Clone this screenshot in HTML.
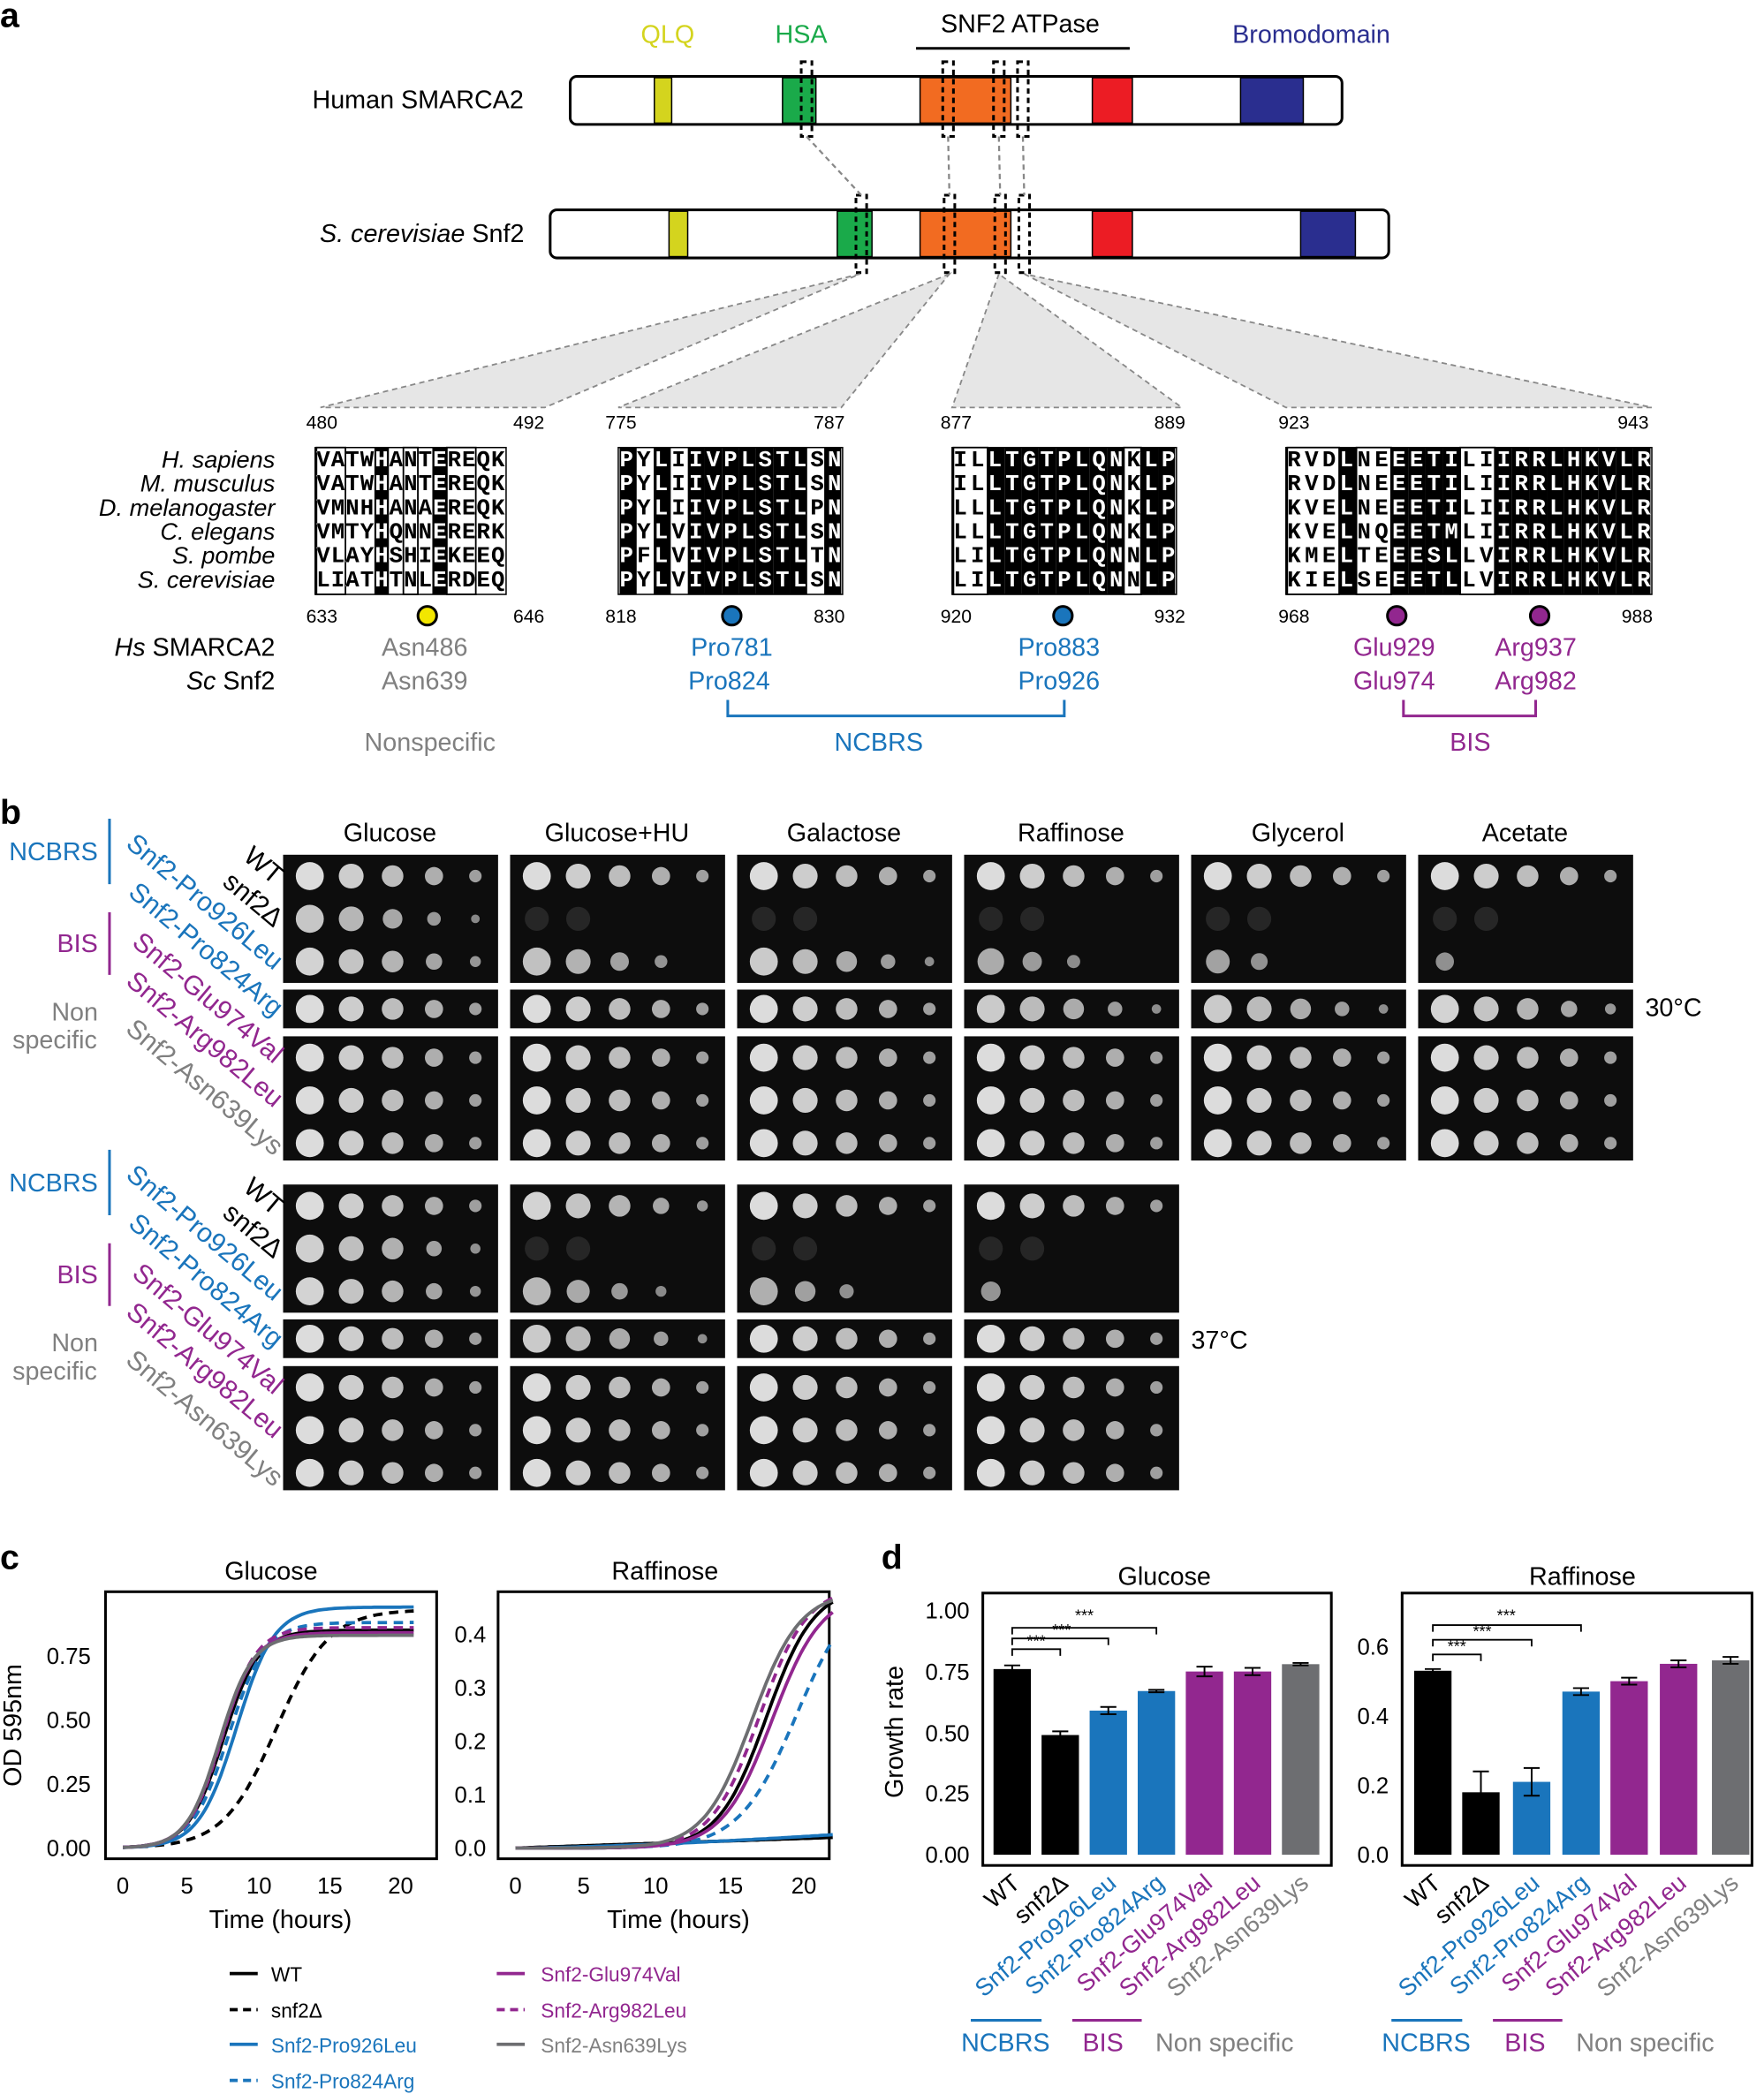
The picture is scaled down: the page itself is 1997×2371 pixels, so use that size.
<!DOCTYPE html>
<html><head><meta charset="utf-8"><style>
html,body{margin:0;padding:0;background:#fff}
svg{display:block}
text{font-family:"Liberation Sans",sans-serif}
.sq{font-family:"Liberation Mono",monospace;font-weight:bold;font-size:17px;fill:#fff;mix-blend-mode:difference}
.sp{font-style:italic;font-size:18px;text-anchor:end}
.n{font-size:14px;text-anchor:middle}
.t{font-size:19px;text-anchor:middle}
.tk{font-size:17px}
</style></head><body>
<svg id="s" xmlns="http://www.w3.org/2000/svg" width="1997" height="2371" viewBox="0 0 1321 1568">
<rect width="1321" height="1568" fill="#fff"/>
<g id="bg"></g>
<text x="0" y="20" font-size="26" font-weight="bold">a</text>
<text x="500" y="32" class="t" fill="#d4d41e">QLQ</text>
<text x="600" y="32" class="t" fill="#1aaa4a">HSA</text>
<text x="764" y="24" class="t">SNF2 ATPase</text>
<line x1="686" y1="36" x2="846" y2="36" stroke="#000" stroke-width="2"/>
<text x="982" y="32" class="t" fill="#2a2e8f">Bromodomain</text>
<text x="313" y="81" class="t">Human SMARCA2</text>
<rect x="427" y="57" width="578" height="36" rx="5" fill="#fff" stroke="#000" stroke-width="2"/>
<rect x="490" y="58" width="13" height="34" fill="#d4d41e" stroke="#000"/>
<rect x="586" y="58" width="25" height="34" fill="#1aaa4a" stroke="#000"/>
<rect x="689" y="58" width="68" height="34" fill="#f26b21" stroke="#000"/>
<rect x="818" y="58" width="30" height="34" fill="#ec1c24" stroke="#000"/>
<rect x="929" y="58" width="47" height="34" fill="#2a2e8f" stroke="#000"/>
<text x="316" y="181" class="t"><tspan font-style="italic">S. cerevisiae</tspan> Snf2</text>
<rect x="412" y="157" width="628" height="36" rx="5" fill="#fff" stroke="#000" stroke-width="2"/>
<rect x="501" y="158" width="14" height="34" fill="#d4d41e" stroke="#000"/>
<rect x="627" y="158" width="26" height="34" fill="#1aaa4a" stroke="#000"/>
<rect x="689" y="158" width="68" height="34" fill="#f26b21" stroke="#000"/>
<rect x="818" y="158" width="30" height="34" fill="#ec1c24" stroke="#000"/>
<rect x="974" y="158" width="41" height="34" fill="#2a2e8f" stroke="#000"/>
<g fill="none" stroke="#000" stroke-width="2" stroke-dasharray="4,3">
<rect x="600" y="46" width="8" height="56"/><rect x="706" y="46" width="8" height="56"/><rect x="744" y="46" width="8" height="56"/><rect x="762" y="46" width="8" height="56"/>
<rect x="641" y="146" width="8" height="58"/><rect x="707" y="146" width="8" height="58"/><rect x="745" y="146" width="8" height="58"/><rect x="763" y="146" width="8" height="58"/>
</g>
<g stroke="#888" stroke-width="1.5" stroke-dasharray="4,3">
<line x1="604" y1="102" x2="645" y2="146"/><line x1="710" y1="102" x2="711" y2="146"/><line x1="748" y1="102" x2="749" y2="146"/><line x1="766" y1="102" x2="767" y2="146"/>
</g>
<g fill="#e6e6e6" stroke="#888" stroke-width="1.2" stroke-dasharray="4,3">
<polygon points="644,205 240,305 408,305"/>
<polygon points="711,205 463,305 630,305"/>
<polygon points="748,205 713,305 885,305"/>
<polygon points="767,205 963,305 1237,305"/>
</g>
<g class="n">
<text x="241" y="321">480</text><text x="396" y="321">492</text><text x="465" y="321">775</text><text x="621" y="321">787</text>
<text x="716" y="321">877</text><text x="876" y="321">889</text><text x="969" y="321">923</text><text x="1223" y="321">943</text>
<text x="241" y="466">633</text><text x="396" y="466">646</text><text x="465" y="466">818</text><text x="621" y="466">830</text>
<text x="716" y="466">920</text><text x="876" y="466">932</text><text x="969" y="466">968</text><text x="1226" y="466">988</text>
</g>
<text x="206" y="350" class="sp">H. sapiens</text>
<text x="206" y="368" class="sp">M. musculus</text>
<text x="206" y="386" class="sp">D. melanogaster</text>
<text x="206" y="404" class="sp">C. elegans</text>
<text x="206" y="422" class="sp">S. pombe</text>
<text x="206" y="440" class="sp">S. cerevisiae</text>
<g id="aln"></g>
<g id="seq">
<text class="sq" x="237" y="349" textLength="141">VATWHANTEREQK</text>
<text class="sq" x="237" y="367" textLength="141">VATWHANTEREQK</text>
<text class="sq" x="237" y="385" textLength="141">VMNHHANAEREQK</text>
<text class="sq" x="237" y="403" textLength="141">VMTYHQNNERERK</text>
<text class="sq" x="237" y="421" textLength="141">VLAYHSHIEKEEQ</text>
<text class="sq" x="237" y="439" textLength="141">LIATHTNLERDEQ</text>
<text class="sq" x="464" y="349" textLength="166">PYLIIVPLSTLSN</text>
<text class="sq" x="464" y="367" textLength="166">PYLIIVPLSTLSN</text>
<text class="sq" x="464" y="385" textLength="166">PYLIIVPLSTLPN</text>
<text class="sq" x="464" y="403" textLength="166">PYLVIVPLSTLSN</text>
<text class="sq" x="464" y="421" textLength="166">PFLVIVPLSTLTN</text>
<text class="sq" x="464" y="439" textLength="166">PYLVIVPLSTLSN</text>
<text class="sq" x="714" y="349" textLength="166">ILLTGTPLQNKLP</text>
<text class="sq" x="714" y="367" textLength="166">ILLTGTPLQNKLP</text>
<text class="sq" x="714" y="385" textLength="166">LLLTGTPLQNKLP</text>
<text class="sq" x="714" y="403" textLength="166">LLLTGTPLQNKLP</text>
<text class="sq" x="714" y="421" textLength="166">LILTGTPLQNNLP</text>
<text class="sq" x="714" y="439" textLength="166">LILTGTPLQNNLP</text>
<text class="sq" x="964" y="349" textLength="272">RVDLNEEETILIIRRLHKVLR</text>
<text class="sq" x="964" y="367" textLength="272">RVDLNEEETILIIRRLHKVLR</text>
<text class="sq" x="964" y="385" textLength="272">KVELNEEETILIIRRLHKVLR</text>
<text class="sq" x="964" y="403" textLength="272">KVELNQEETMLIIRRLHKVLR</text>
<text class="sq" x="964" y="421" textLength="272">KMELTEEESLLVIRRLHKVLR</text>
<text class="sq" x="964" y="439" textLength="272">KIELSEEETLLVIRRLHKVLR</text>
</g>
<g stroke="#000" stroke-width="2">
<circle cx="320" cy="461" r="7" fill="#f2e600"/><circle cx="548" cy="461" r="7" fill="#1a75bc"/><circle cx="796" cy="461" r="7" fill="#1a75bc"/>
<circle cx="1046" cy="461" r="7" fill="#92278f"/><circle cx="1153" cy="461" r="7" fill="#92278f"/>
</g>
<text x="206" y="491" class="t" style="text-anchor:end"><tspan font-style="italic">Hs</tspan> SMARCA2</text>
<text x="206" y="516" class="t" style="text-anchor:end"><tspan font-style="italic">Sc</tspan> Snf2</text>
<g class="t" fill="#808080"><text x="318" y="491">Asn486</text><text x="318" y="516">Asn639</text><text x="322" y="562">Nonspecific</text></g>
<g class="t" fill="#1a75bc"><text x="548" y="491">Pro781</text><text x="546" y="516">Pro824</text><text x="793" y="491">Pro883</text><text x="793" y="516">Pro926</text><text x="658" y="562">NCBRS</text></g>
<g class="t" fill="#92278f"><text x="1044" y="491">Glu929</text><text x="1044" y="516">Glu974</text><text x="1150" y="491">Arg937</text><text x="1150" y="516">Arg982</text><text x="1101" y="562">BIS</text></g>
<polyline points="545,524 545,536 797,536 797,524" fill="none" stroke="#1a75bc" stroke-width="2"/>
<polyline points="1051,524 1051,536 1150,536 1150,524" fill="none" stroke="#92278f" stroke-width="2"/>

<text x="0" y="617" font-size="26" font-weight="bold">b</text>
<g class="t"><text x="292" y="630">Glucose</text><text x="462" y="630">Glucose+HU</text><text x="632" y="630">Galactose</text><text x="802" y="630">Raffinose</text><text x="972" y="630">Glycerol</text><text x="1142" y="630">Acetate</text></g>
<text x="1232" y="761" font-size="19">30°C</text>
<text x="892" y="1010" font-size="19">37°C</text>
<g id="plates"></g>
<g id="lab1">
<text x="40" y="644" class="t" fill="#1a75bc">NCBRS</text><line x1="82" y1="613" x2="82" y2="662" stroke="#1a75bc" stroke-width="2"/>
<text x="58" y="713" class="t" fill="#92278f">BIS</text><line x1="82" y1="683" x2="82" y2="730" stroke="#92278f" stroke-width="2"/>
<text x="56" y="764" class="t" fill="#808080">Non</text><text x="41" y="785" class="t" fill="#808080">specific</text>
<g font-size="20" text-anchor="end">
<text transform="translate(205,663) rotate(40)">WT</text>
<text transform="translate(205,695) rotate(40)">snf2Δ</text>
<text transform="translate(205,727) rotate(40)" fill="#1a75bc">Snf2-Pro926Leu</text>
<text transform="translate(205,762) rotate(40)" fill="#1a75bc">Snf2-Pro824Arg</text>
<text transform="translate(205,797) rotate(40)" fill="#92278f">Snf2-Glu974Val</text>
<text transform="translate(205,830) rotate(40)" fill="#92278f">Snf2-Arg982Leu</text>
<text transform="translate(205,866) rotate(40)" fill="#808080">Snf2-Asn639Lys</text>
</g></g>
<g transform="translate(0,248)">
<text x="40" y="644" class="t" fill="#1a75bc">NCBRS</text><line x1="82" y1="613" x2="82" y2="662" stroke="#1a75bc" stroke-width="2"/>
<text x="58" y="713" class="t" fill="#92278f">BIS</text><line x1="82" y1="683" x2="82" y2="730" stroke="#92278f" stroke-width="2"/>
<text x="56" y="764" class="t" fill="#808080">Non</text><text x="41" y="785" class="t" fill="#808080">specific</text>
<g font-size="20" text-anchor="end">
<text transform="translate(205,663) rotate(40)">WT</text>
<text transform="translate(205,695) rotate(40)">snf2Δ</text>
<text transform="translate(205,727) rotate(40)" fill="#1a75bc">Snf2-Pro926Leu</text>
<text transform="translate(205,762) rotate(40)" fill="#1a75bc">Snf2-Pro824Arg</text>
<text transform="translate(205,797) rotate(40)" fill="#92278f">Snf2-Glu974Val</text>
<text transform="translate(205,830) rotate(40)" fill="#92278f">Snf2-Arg982Leu</text>
<text transform="translate(205,866) rotate(40)" fill="#808080">Snf2-Asn639Lys</text>
</g></g>

<text x="0" y="1175" font-size="26" font-weight="bold">c</text>
<text x="203" y="1183" class="t">Glucose</text>
<text x="498" y="1183" class="t">Raffinose</text>
<rect x="79" y="1192" width="248" height="200" fill="none" stroke="#000" stroke-width="2"/>
<rect x="373" y="1192" width="248" height="200" fill="none" stroke="#000" stroke-width="2"/>
<g class="tk" text-anchor="end">
<text x="68" y="1390">0.00</text><text x="68" y="1342">0.25</text><text x="68" y="1294">0.50</text><text x="68" y="1246">0.75</text>
<text x="364" y="1390">0.0</text><text x="364" y="1350">0.1</text><text x="364" y="1310">0.2</text><text x="364" y="1270">0.3</text><text x="364" y="1230">0.4</text>
</g>
<g class="tk" text-anchor="middle">
<text x="92" y="1418">0</text><text x="140" y="1418">5</text><text x="194" y="1418">10</text><text x="247" y="1418">15</text><text x="300" y="1418">20</text>
<text x="386" y="1418">0</text><text x="437" y="1418">5</text><text x="491" y="1418">10</text><text x="547" y="1418">15</text><text x="602" y="1418">20</text>
</g>
<text x="210" y="1444" class="t">Time (hours)</text>
<text x="508" y="1444" class="t">Time (hours)</text>
<text transform="translate(16,1292) rotate(-90)" class="t">OD 595nm</text>
<g id="curves"></g>
<g font-size="15">
<line x1="172" y1="1478" x2="193" y2="1478" stroke="#000" stroke-width="2.5"/><text x="203" y="1484">WT</text>
<line x1="172" y1="1505" x2="193" y2="1505" stroke="#000" stroke-width="2.5" stroke-dasharray="6,4"/><text x="203" y="1511">snf2Δ</text>
<line x1="172" y1="1531" x2="193" y2="1531" stroke="#1a75bc" stroke-width="2.5"/><text x="203" y="1537" fill="#1a75bc">Snf2-Pro926Leu</text>
<line x1="172" y1="1558" x2="193" y2="1558" stroke="#1a75bc" stroke-width="2.5" stroke-dasharray="6,4"/><text x="203" y="1564" fill="#1a75bc">Snf2-Pro824Arg</text>
<line x1="372" y1="1478" x2="393" y2="1478" stroke="#92278f" stroke-width="2.5"/><text x="405" y="1484" fill="#92278f">Snf2-Glu974Val</text>
<line x1="372" y1="1505" x2="393" y2="1505" stroke="#92278f" stroke-width="2.5" stroke-dasharray="6,4"/><text x="405" y="1511" fill="#92278f">Snf2-Arg982Leu</text>
<line x1="372" y1="1531" x2="393" y2="1531" stroke="#6d6e71" stroke-width="2.5"/><text x="405" y="1537" fill="#808080">Snf2-Asn639Lys</text>
</g>

<text x="660" y="1175" font-size="26" font-weight="bold">d</text>
<text x="872" y="1187" class="t">Glucose</text>
<text x="1185" y="1187" class="t">Raffinose</text>
<text transform="translate(676,1297) rotate(-90)" class="t">Growth rate</text>
<g id="bars"></g>
<rect x="736" y="1193" width="261" height="204" fill="none" stroke="#000" stroke-width="2"/>
<rect x="1050" y="1193" width="262" height="204" fill="none" stroke="#000" stroke-width="2"/>
<g class="tk" text-anchor="end">
<text x="726" y="1395">0.00</text><text x="726" y="1349">0.25</text><text x="726" y="1304">0.50</text><text x="726" y="1258">0.75</text><text x="726" y="1212">1.00</text>
<text x="1040" y="1395">0.0</text><text x="1040" y="1343">0.2</text><text x="1040" y="1291">0.4</text><text x="1040" y="1239">0.6</text>
</g>
<g font-size="12" text-anchor="middle">
<text x="776" y="1233">***</text><text x="795" y="1225">***</text><text x="812" y="1214">***</text>
<text x="1091" y="1237">***</text><text x="1110" y="1226">***</text><text x="1128" y="1214">***</text>
</g>
<g fill="none" stroke="#000" stroke-width="1.2">
<polyline points="758,1240 758,1235 794,1235 794,1240"/><polyline points="758,1232 758,1227 830,1227 830,1232"/><polyline points="758,1224 758,1219 866,1219 866,1224"/>
<polyline points="1073,1244 1073,1239 1109,1239 1109,1244"/><polyline points="1073,1233 1073,1228 1147,1228 1147,1233"/><polyline points="1073,1222 1073,1217 1184,1217 1184,1222"/>
</g>
<g font-size="18" text-anchor="end">
<text transform="translate(765,1412) rotate(-40)">WT</text>
<text transform="translate(801,1412) rotate(-40)">snf2Δ</text>
<text transform="translate(837,1412) rotate(-40)" fill="#1a75bc">Snf2-Pro926Leu</text>
<text transform="translate(873,1412) rotate(-40)" fill="#1a75bc">Snf2-Pro824Arg</text>
<text transform="translate(909,1412) rotate(-40)" fill="#92278f">Snf2-Glu974Val</text>
<text transform="translate(945,1412) rotate(-40)" fill="#92278f">Snf2-Arg982Leu</text>
<text transform="translate(981,1412) rotate(-40)" fill="#808080">Snf2-Asn639Lys</text>
<text transform="translate(1080,1412) rotate(-40)">WT</text>
<text transform="translate(1116,1412) rotate(-40)">snf2Δ</text>
<text transform="translate(1154,1412) rotate(-40)" fill="#1a75bc">Snf2-Pro926Leu</text>
<text transform="translate(1191,1412) rotate(-40)" fill="#1a75bc">Snf2-Pro824Arg</text>
<text transform="translate(1227,1412) rotate(-40)" fill="#92278f">Snf2-Glu974Val</text>
<text transform="translate(1264,1412) rotate(-40)" fill="#92278f">Snf2-Arg982Leu</text>
<text transform="translate(1303,1412) rotate(-40)" fill="#808080">Snf2-Asn639Lys</text>
</g>
<g class="t">
<text x="753" y="1536" fill="#1a75bc">NCBRS</text><text x="826" y="1536" fill="#92278f">BIS</text><text x="917" y="1536" fill="#808080">Non specific</text>
<text x="1068" y="1536" fill="#1a75bc">NCBRS</text><text x="1142" y="1536" fill="#92278f">BIS</text><text x="1232" y="1536" fill="#808080">Non specific</text>
</g>
<g stroke-width="2">
<line x1="727" y1="1513" x2="780" y2="1513" stroke="#1a75bc"/><line x1="803" y1="1513" x2="855" y2="1513" stroke="#92278f"/>
<line x1="1042" y1="1513" x2="1095" y2="1513" stroke="#1a75bc"/><line x1="1118" y1="1513" x2="1170" y2="1513" stroke="#92278f"/>
</g>
</svg>
<script>
var NS="http://www.w3.org/2000/svg";
function el(p,t,a){var e=document.createElementNS(NS,t);for(var k in a)e.setAttribute(k,a[k]);document.getElementById(p).appendChild(e);return e;}
var blocks=[[237,141,13,[5,9],[[1,2],[7,7],[10,11]]],[464,166,13,[1,3,5,6,7,8,9,10,11,13],[]],[714,166,13,[3,4,5,6,7,8,9,10,12,13],[[1,2],[11,11]]],[964,272,21,[4,7,8,9,10,13,14,15,16,17,18,19,20,21],[[1,3],[5,6],[11,12]]]];
blocks.forEach(function(b){var w=b[1]/b[2];
 el("aln","rect",{x:b[0]-1,y:335,width:b[1]+2,height:110,fill:"none",stroke:"#000","stroke-width":1});
 b[3].forEach(function(c){el("aln","rect",{x:b[0]+(c-1)*w,y:335,width:w,height:110,fill:"#000"});});
 b[4].forEach(function(r){el("aln","rect",{x:b[0]+(r[0]-1)*w,y:335,width:(r[1]-r[0]+1)*w,height:110,fill:"none",stroke:"#000","stroke-width":1.2});});
});
var px=[212,382,552,722,892,1062];
var S30=[[1,.75,.9,1,1,1,1],[1,.04,.7,1,1,1,1],[1,.04,.8,1,1,1,1],[1,.03,.45,.8,1,1,1],[1,.03,.35,.8,1,1,1],[1,.03,.15,.9,1,1,1]];
var S37=[[1,.85,.9,1,1,1,1],[.9,.04,.6,.8,1,1,1],[1,.03,.5,1,1,1,1],[1,.03,.2,1,1,1,1]];
function plateSet(y0,S,n){
 var groups=[[y0,96,[0,1,2]],[y0+101,29,[3]],[y0+136,93,[4,5,6]]];
 for(var p=0;p<n;p++){
  groups.forEach(function(g){
   el("plates","rect",{x:px[p],y:g[0],width:161,height:g[1],fill:"#0d0d0d"});
   g[2].forEach(function(r,i){
    var cy=g[2].length==1?g[0]+g[1]/2:g[0]+16+i*32;
    var s=S[p][r];
    for(var d=0;d<5;d++){
     var cx=px[p]+20+d*31;
     var v=s-d*0.17;
     if(v<=0.05){ if(s<0.1&&d<2){el("plates","circle",{cx:cx,cy:cy,r:9,fill:"#262626"});} continue;}
     var rr=Math.max(2.5,(10.5-d*1.2)*Math.min(1,0.5+v));
     var c=Math.round(130+90*Math.min(1,v));
     el("plates","circle",{cx:cx,cy:cy,r:rr,fill:"rgb("+c+","+c+","+c+")"});
    }
   });
  });
 }
}
plateSet(640,S30,6);plateSet(887,S37,4);
function curve(x0,xs,y0,ys,f,col,dash){
 var d="";for(var t=0;t<=22;t+=0.2){var x=x0+t*xs,y=y0-f(t)*ys;d+=(t==0?"M":"L")+x.toFixed(1)+","+y.toFixed(1);}
 var a={d:d,fill:"none",stroke:col,"stroke-width":2.5};if(dash)a["stroke-dasharray"]="7,5";el("curves","path",a);
}
function L(m,mid,k,b){return function(t){return b+(m-b)/(1+Math.exp(-k*(t-mid)));};}
var gx=92,gs=9.9,gy=1384,gys=192;
curve(gx,gs,gy,gys,L(0.85,7.6,0.75,0.0),"#000");
curve(gx,gs,gy,gys,L(0.93,11.6,0.5,0.0),"#000",1);
curve(gx,gs,gy,gys,L(0.94,8.6,0.7,0.0),"#1a75bc");
curve(gx,gs,gy,gys,L(0.88,8.0,0.72,0.0),"#1a75bc",1);
curve(gx,gs,gy,gys,L(0.84,7.4,0.78,0.0),"#92278f");
curve(gx,gs,gy,gys,L(0.86,7.5,0.78,0.0),"#92278f",1);
curve(gx,gs,gy,gys,L(0.83,7.3,0.8,0.0),"#6d6e71");
var rx=386,rs=10.8,ry=1384,rys=400;
curve(rx,rs,ry,rys,function(t){return 0.02*t/22;},"#000");
curve(rx,rs,ry,rys,function(t){return 0.02*t/22;},"#000",1);
curve(rx,rs,ry,rys,function(t){return 0.025*Math.pow(t/22,1.5);},"#1a75bc");
curve(rx,rs,ry,rys,L(0.5,19.5,0.5,0),"#1a75bc",1);
curve(rx,rs,ry,rys,L(0.49,17.4,0.6,0),"#000");
curve(rx,rs,ry,rys,L(0.48,17.8,0.58,0),"#92278f");
curve(rx,rs,ry,rys,L(0.49,16.9,0.6,0),"#92278f",1);
curve(rx,rs,ry,rys,L(0.48,16.4,0.6,0),"#6d6e71");
var cols=["#000","#000","#1a75bc","#1a75bc","#92278f","#92278f","#6d6e71"];
function bars(cx,v,e,y0,sc){cx.forEach(function(x,i){var h=v[i]*sc;
 el("bars","rect",{x:x-14,y:y0-h,width:28,height:h,fill:cols[i]});
 var eh=e[i]*sc;el("bars","path",{d:"M"+(x-6)+","+(y0-h-eh)+"H"+(x+6)+"M"+x+","+(y0-h-eh)+"V"+(y0-h+eh)+"M"+(x-6)+","+(y0-h+eh)+"H"+(x+6),stroke:"#000","stroke-width":1.3,fill:"none"});});}
bars([758,794,830,866,902,938,974],[.76,.49,.59,.67,.75,.75,.78],[.015,.015,.015,.005,.02,.015,.005],1389,183);
bars([1073,1109,1147,1184,1220,1257,1296],[.53,.18,.21,.47,.50,.55,.56],[.005,.06,.04,.01,.01,.01,.01],1389,260);
</script>
</body></html>
